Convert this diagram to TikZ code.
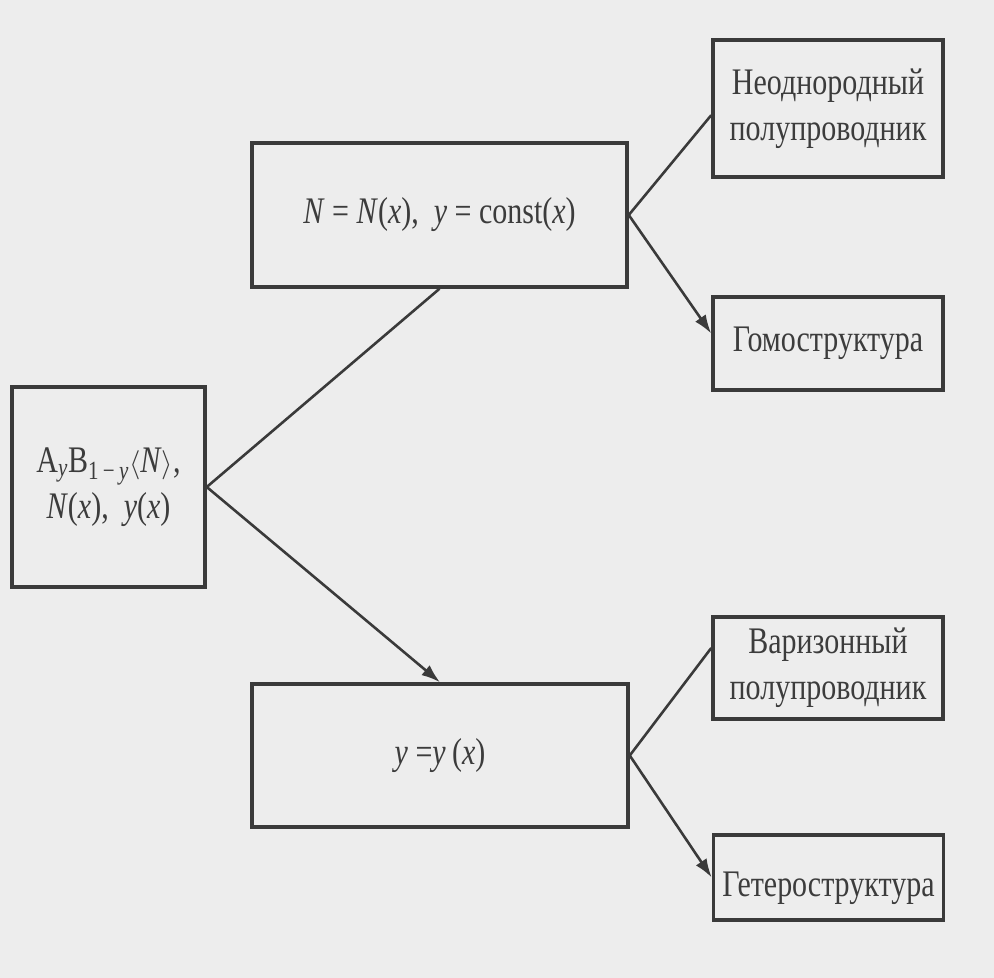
\documentclass[tikz,border=0pt]{standalone}
\usepackage{fontspec}
\setmainfont{Liberation Serif}[FakeStretch=0.8]
\usepackage{tikz}
\usepackage{xcolor}
\usetikzlibrary{positioning, arrows.meta, calc}
\definecolor{Scan_Paper}{HTML}{EDEDED}
\definecolor{Scan_Ink}{HTML}{3A3A3A}
\definecolor{Scan_Text}{HTML}{3C3C3C}

\begin{document}
\begin{tikzpicture}[
  x=0.03cm, y=-0.03cm,
  every node/.style={font=\fontsize{32}{39}\selectfont, text=Scan_Text},
  block/.style={draw=Scan_Ink, line width=3pt, fill=Scan_Paper, align=center,
    inner sep=0pt},
  leaf/.style={block, minimum width=6.9cm},
  arr/.style={-{Latex[length=16pt, width=11pt]}, line width=2.2pt, Scan_Ink},
  lin/.style={line width=2.2pt, Scan_Ink}
]
  % Paper
  \fill[Scan_Paper] (0,0) rectangle (994,978);
  \useasboundingbox (0,0) rectangle (994,978);

  % Source
  \node[block, minimum width=5.79cm, minimum height=6.0cm] (src) at (108.5,487)
    {A\textsubscript{\textit{y}}B\textsubscript{1\,−\,\textit{y}}$\langle$\textit{N}$\rangle$,\\
     \textit{N}(\textit{x}),\ \ \textit{y}(\textit{x})};

  % Two cases
  \node[block, minimum width=11.25cm, minimum height=4.32cm] (cst) at (439.5,215)
    {\textit{N} = \textit{N}(\textit{x}),\ \ \textit{y} = const(\textit{x})};
  \node[block, minimum width=11.28cm, minimum height=4.29cm] (var) at (440,755.5)
    {\textit{y} =\textit{y}\,(\textit{x})};

  % Results
  \node[leaf, minimum height=4.11cm] (inh) at (828,108.5) {Неоднородный\\полупроводник};
  \node[leaf, minimum height=2.79cm] (hom) at (828,343.5) {Гомоструктура};
  \node[leaf, minimum height=3.06cm] (vgr) at (828,668) {Варизонный\\полупроводник};
  \node[leaf, minimum height=2.55cm, text height=1.4cm] (het) at (828.5,877.5)
    {Гетероструктура};

  % Connectors
  \draw[lin] (src.east) -- (cst.south);
  \draw[arr] (src.east) -- (var.north);
  \draw[lin] (cst.east) -- ([yshift=-0.2cm]inh.west);
  \draw[arr] (cst.east) -- ([yshift=0.3cm]hom.west);
  \draw[lin] (var.east) -- ([yshift=0.6cm]vgr.west);
  \draw[arr] (var.east) -- (het.west);
\end{tikzpicture}
\end{document}
